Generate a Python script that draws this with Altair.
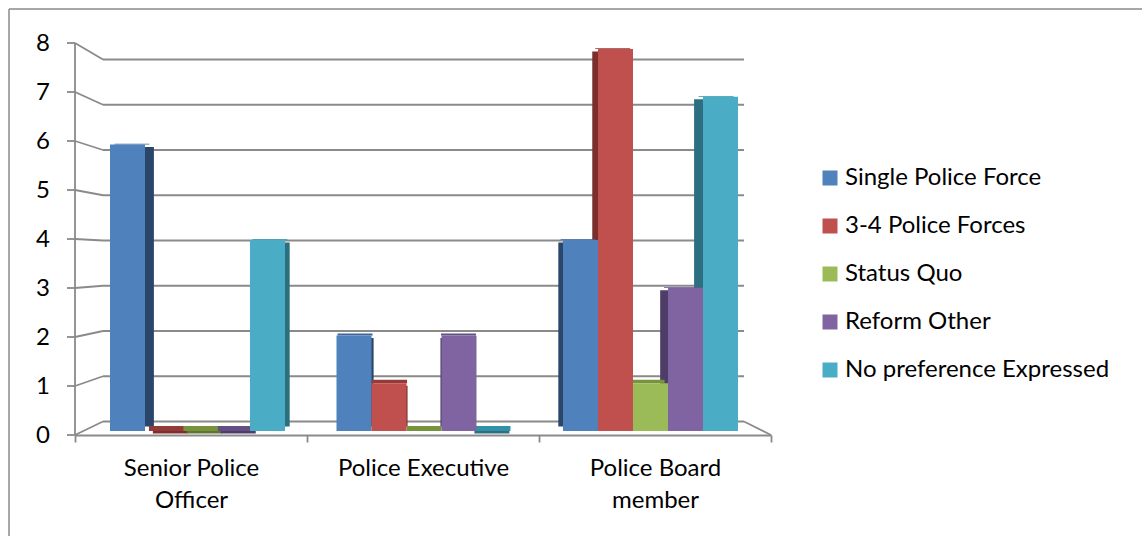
import altair as alt
import pandas as pd

# ---------------- data ----------------
categories = ["Senior Police Officer", "Police Executive", "Police Board member"]
series = ["Single Police Force", "3-4 Police Forces", "Status Quo", "Reform Other",
          "No preference Expressed"]
single_police_force = [6, 2, 4]
three_four_police_forces = [0, 1, 8]
status_quo = [0, 0, 1]
reform_other = [0, 2, 3]
no_preference_expressed = [4, 0, 7]
y_ticks = [0, 1, 2, 3, 4, 5, 6, 7, 8]

series_values = [single_police_force, three_four_police_forces, status_quo,
                 reform_other, no_preference_expressed]
rows = []
for j, s in enumerate(series):
    for i, c in enumerate(categories):
        rows.append({"category": c, "series": s, "value": series_values[j][i]})
df = pd.DataFrame(rows)
ticks_df = pd.DataFrame({"v": y_ticks})
one = pd.DataFrame({"a": [0]})

# ---------------- style ----------------
W, H = 1142, 536
FONT = "Lato"
FS = 24
GRAY = "#8A8A8A"
LW = 1.8
colors = ["#4F81BD", "#C0504D", "#9BBB59", "#8064A2", "#4BACC6"]
side_colors = ["#2B466B", "#7B2F2D", "#5F7533", "#4E3D69", "#2C6F80"]
top_colors = ["#3E6698", "#953A38", "#77933C", "#644E86", "#3191A8"]

# pseudo-3D geometry (front plane = axis, back plane = grid, middle = bars)
FRONT_BOTTOM, FRONT_TOP = 435, 43
BACK_A, BACK_B = 0.2755, 0.9235      # back-wall position in front-axis units
BAR_A, BAR_B = 0.0816, 0.9745        # bar plane position in front-axis units
FRONT_X = [75, 771]
BACK_X = [103, 744]
BAR_X = [84.25, 763.75]
OUTER = 0.736
VANISH_X = 424
SIDE_K = 0.03
TICK_LEN = 8
LABEL_X = 50

yscale = alt.Scale(domain=[0, 8], range=[FRONT_BOTTOM, FRONT_TOP])


def x_bar(shift=0.0):
    return alt.X("category:N", sort=categories,
                 scale=alt.Scale(domain=categories,
                                 range=[BAR_X[0] + shift, BAR_X[1] + shift],
                                 paddingInner=0, paddingOuter=0),
                 axis=None)


x_off = alt.XOffset("series:N", sort=series,
                    scale=alt.Scale(domain=series, paddingInner=0, paddingOuter=OUTER))

layers = []

# frame (top and left edges)
layers.append(alt.Chart(one).mark_rule(color=GRAY, strokeWidth=1.5).encode(
    x=alt.value(9), x2=alt.value(W), y=alt.value(9)))
layers.append(alt.Chart(one).mark_rule(color=GRAY, strokeWidth=1.5).encode(
    x=alt.value(9), y=alt.value(9), y2=alt.value(H)))

# back-wall gridlines
layers.append(alt.Chart(ticks_df).transform_calculate(
    vb=f"{BACK_A} + {BACK_B} * datum.v").mark_rule(color=GRAY, strokeWidth=LW).encode(
    x=alt.value(BACK_X[0]), x2=alt.value(BACK_X[1]),
    y=alt.Y("vb:Q", scale=yscale, axis=None)))

# slanted connectors from the axis to the back wall
layers.append(alt.Chart(ticks_df).transform_calculate(
    vb=f"{BACK_A} + {BACK_B} * datum.v").mark_rule(color=GRAY, strokeWidth=LW).encode(
    x=alt.value(FRONT_X[0]), x2=alt.value(BACK_X[0]),
    y=alt.Y("v:Q", scale=yscale, axis=None), y2="vb:Q"))

# right floor connector
layers.append(alt.Chart(ticks_df).transform_filter("datum.v == 0").transform_calculate(
    vb=f"{BACK_A} + {BACK_B} * datum.v").mark_rule(color=GRAY, strokeWidth=LW).encode(
    x=alt.value(BACK_X[1]), x2=alt.value(FRONT_X[1]),
    y=alt.Y("vb:Q", scale=yscale, axis=None), y2="v:Q"))

# value axis on the front plane: domain line, ticks, labels
layers.append(alt.Chart(ticks_df).mark_rule(color=GRAY, strokeWidth=LW).encode(
    x=alt.value(FRONT_X[0]),
    y=alt.Y("min(v):Q", scale=yscale, axis=None), y2="max(v):Q"))
layers.append(alt.Chart(ticks_df).mark_rule(color=GRAY, strokeWidth=LW).encode(
    x=alt.value(FRONT_X[0] - TICK_LEN), x2=alt.value(FRONT_X[0]),
    y=alt.Y("v:Q", scale=yscale, axis=None)))
layers.append(alt.Chart(ticks_df).mark_text(
    align="right", baseline="middle", font=FONT, fontSize=FS, color="black", dy=1).encode(
    x=alt.value(LABEL_X), y=alt.Y("v:Q", scale=yscale, axis=None), text="v:Q"))

# invisible layer carrying the category axis on the front plane
layers.append(alt.Chart(df).mark_point(opacity=0).encode(
    x=alt.X("category:N", sort=categories,
            scale=alt.Scale(domain=categories, range=FRONT_X, paddingInner=0, paddingOuter=0),
            axis=alt.Axis(title=None, orient="bottom", offset=-(H - FRONT_BOTTOM),
                          tickBand="extent", tickSize=7, tickColor=GRAY, tickWidth=LW,
                          domainColor=GRAY, domainWidth=LW, labelAngle=0, labelFont=FONT,
                          labelFontSize=FS, labelColor="black", labelPadding=14,
                          labelLineHeight=32,
                          labelExpr="datum.value == 'Senior Police Officer' ? ['Senior Police', 'Officer'] : datum.value == 'Police Board member' ? ['Police Board', 'member'] : datum.value")),
    y=alt.Y("value:Q", scale=yscale, axis=None)))

# bar sides and tops (pseudo 3D)
n_cat = len(categories)
cat_step = (BAR_X[1] - BAR_X[0]) / n_cat
bar_w = cat_step / (len(series) + 2 * OUTER)
side_layers, top_layers = [], []
for i, c in enumerate(categories):
    for j, s in enumerate(series):
        center = BAR_X[0] + cat_step * i + bar_w * OUTER + bar_w * (j + 0.5)
        d = SIDE_K * (VANISH_X - center)
        base = alt.Chart(df).transform_filter(
            (alt.datum.category == c) & (alt.datum.series == s)).transform_calculate(
            vr=f"{BAR_A} + {BAR_B} * datum.value",
            vs=f"{BAR_A} + {BAR_B} * datum.value - 0.05",
            bs=f"{BAR_A} + 0.09",
            vt=f"{BAR_A} + {BAR_B} * datum.value + max(0.1 - 0.03 * datum.value, 0.015)")
        if abs(d) > 0.8:
            side_layers.append(base.mark_bar(color=side_colors[j]).encode(
                x=x_bar(d), xOffset=x_off,
                y=alt.Y("vs:Q", scale=yscale, axis=None), y2="bs:Q"))
        top_layers.append(base.mark_bar(color=top_colors[j]).encode(
            x=x_bar(d * 0.5), xOffset=x_off,
            y=alt.Y("vt:Q", scale=yscale, axis=None), y2="vr:Q"))
layers += side_layers + top_layers

# main bars
layers.append(alt.Chart(df).transform_calculate(
    vr=f"{BAR_A} + {BAR_B} * datum.value", b0=f"{BAR_A}").mark_bar().encode(
    x=x_bar(), xOffset=x_off,
    y=alt.Y("vr:Q", scale=yscale, axis=None), y2="b0:Q",
    color=alt.Color("series:N", sort=series,
                    scale=alt.Scale(domain=series, range=colors),
                    legend=alt.Legend(title=None, orient="none", legendX=818, legendY=166,
                                      symbolType="square", symbolSize=225,
                                      symbolStrokeWidth=0, labelFont=FONT,
                                      labelFontSize=FS, labelColor="black",
                                      labelLimit=400, rowPadding=24, labelOffset=3,
                                      padding=0))))

chart = alt.layer(*layers).resolve_scale(x="independent").properties(
    width=W, height=H, autosize=alt.AutoSizeParams(type="none"), padding=0,
    background="white").configure_view(stroke=None)

chart.save("out.html", embed_options={"renderer": "svg", "actions": False})
